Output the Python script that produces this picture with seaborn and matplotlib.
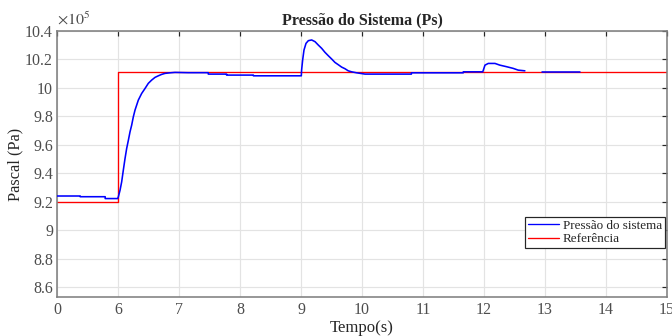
import numpy as np
import pandas as pd
import matplotlib
matplotlib.use("Agg")
import matplotlib.pyplot as plt
import seaborn as sns
from matplotlib.lines import Line2D

# --- dados (pressão em unidades de 1e5 Pa) ---
# eixo real de tempo vai de 5 a 15 s; o primeiro tick é rotulado "0"
t_sistema = [5.0, 5.38, 5.38, 5.79, 5.79, 5.995,
             6.005, 6.033, 6.06, 6.087, 6.115, 6.142, 6.17, 6.197, 6.224, 6.251,
             6.279, 6.306, 6.333, 6.388, 6.443, 6.497, 6.552, 6.607, 6.661, 6.716,
             6.77, 6.852, 6.934, 7.15, 7.48, 7.48, 7.78, 7.78, 8.22, 8.22, 9.005,
             9.01, 9.027, 9.049, 9.082, 9.12, 9.175, 9.23, 9.284, 9.339, 9.393,
             9.448, 9.503, 9.557, 9.611, 9.667, 9.72, 9.775, 9.831, 9.913, 10.05,
             10.81, 10.81, 11.66, 11.66, 11.98, 12.016, 12.07, 12.18, 12.26, 12.37,
             12.48, 12.56, 12.67]
p_sistema = [9.24, 9.24, 9.235, 9.235, 9.222, 9.222,
             9.233, 9.28, 9.339, 9.421, 9.503, 9.574, 9.632, 9.691, 9.738, 9.796,
             9.844, 9.879, 9.914, 9.961, 9.996, 10.032, 10.055, 10.074, 10.085, 10.095,
             10.102, 10.106, 10.109, 10.107, 10.107, 10.097, 10.097, 10.09, 10.09, 10.085, 10.085,
             10.125, 10.196, 10.266, 10.313, 10.332, 10.337, 10.325, 10.301, 10.278, 10.25,
             10.226, 10.203, 10.179, 10.163, 10.146, 10.135, 10.12, 10.113, 10.106, 10.097,
             10.097, 10.106, 10.106, 10.113, 10.113, 10.16, 10.172, 10.172, 10.16, 10.149,
             10.137, 10.125, 10.12]
t_sistema2 = [12.95, 13.57]
p_sistema2 = [10.109, 10.109]

t_ref = [5.0, 6.0, 6.0, 15.0]
p_ref = [9.2, 9.2, 10.113, 10.113]

x_ticks = [5, 6, 7, 8, 9, 10, 11, 12, 13, 14, 15]
x_labels = ['0', '6', '7', '8', '9', '10', '11', '12', '13', '14', '15']
y_ticks = [8.6, 8.8, 9.0, 9.2, 9.4, 9.6, 9.8, 10.0, 10.2, 10.4]
y_labels = ['8.6', '8.8', '9', '9.2', '9.4', '9.6', '9.8', '10', '10.2', '10.4']

df_sis = pd.DataFrame({'t': t_sistema, 'p': p_sistema})
df_sis2 = pd.DataFrame({'t': t_sistema2, 'p': p_sistema2})
df_ref = pd.DataFrame({'t': t_ref, 'p': p_ref})

sns.set_style("white")
plt.rcParams['font.family'] = ['Liberation Serif', 'DejaVu Serif']
plt.rcParams['mathtext.fontset'] = 'stix'

fig = plt.figure(figsize=(7, 3.5), dpi=96)
ax = fig.add_axes([57/672, 39/336, 610/672, 266/336])

sns.lineplot(data=df_ref, x='t', y='p', ax=ax, color='#ff0000', lw=1.0,
             estimator=None, sort=False, zorder=2)
sns.lineplot(data=df_sis, x='t', y='p', ax=ax, color='#0000ff', lw=1.2,
             estimator=None, sort=False, zorder=3)
sns.lineplot(data=df_sis2, x='t', y='p', ax=ax, color='#0000ff', lw=1.2,
             estimator=None, sort=False, zorder=3)

ax.set_xlim(5, 15)
ax.set_ylim(8.53, 10.4)
ax.set_xticks(x_ticks)
ax.set_xticklabels(x_labels)
ax.set_yticks(y_ticks)
ax.set_yticklabels(y_labels)
ax.grid(True, color='#e3e3e3', lw=0.9)
ax.set_axisbelow(True)
ax.tick_params(direction='in', length=4, width=0.9, top=True, right=True,
               labelsize=12, colors='#262626', labelcolor='#4d4d4d', pad=4)
ax.tick_params(axis='y', pad=3)
for s in ax.spines.values():
    s.set_color('#808080')
    s.set_linewidth(1.2)

ax.set_xlabel('Tempo(s)', fontsize=12.5, labelpad=1)
ax.set_ylabel('Pascal (Pa)', fontsize=12.2, labelpad=1)
ax.set_title('Pressão do Sistema (Ps)', fontsize=12, fontweight='bold', pad=5)
ax.text(0.0, 1.008, r'$\times10^5$', transform=ax.transAxes, fontsize=12,
        color='#4d4d4d', ha='left', va='bottom')

handles = [Line2D([], [], color='#0000ff', lw=1.0), Line2D([], [], color='#ff0000', lw=1.0)]
leg = ax.legend(handles, ['Pressão do sistema', 'Referência'], loc='lower right',
                bbox_to_anchor=(0.996, 0.185), fontsize=9.8, fancybox=False,
                framealpha=1, edgecolor='#262626', borderpad=0.2, labelspacing=0.1,
                handlelength=2.4, handletextpad=0.3, borderaxespad=0)
leg.get_frame().set_linewidth(0.9)

fig.savefig('out.png', dpi=96)
